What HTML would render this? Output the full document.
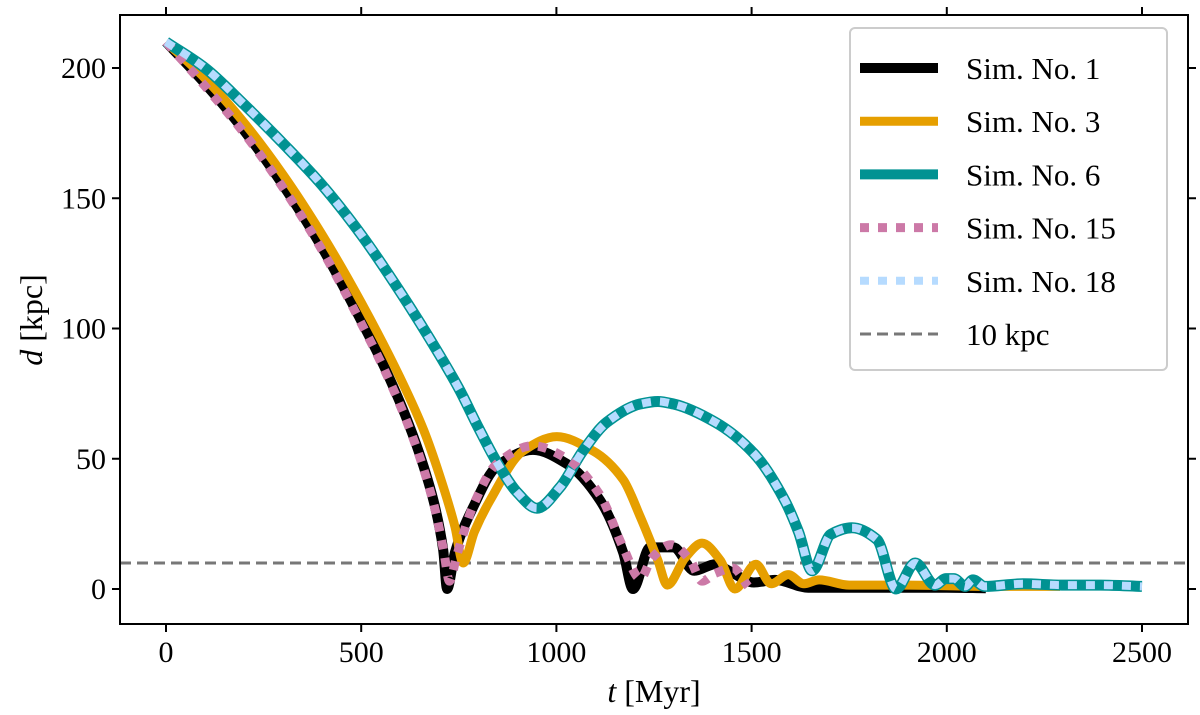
<!DOCTYPE html>
<html><head><meta charset="utf-8"><style>
body{margin:0;background:#fff}
svg{display:block;font-family:"Liberation Serif",serif}
</style></head><body>
<svg id="chart" width="1200" height="715"></svg>
<script>
const xTicks=[0,500,1000,1500,2000,2500];
const yTicks=[0,50,100,150,200];
const t1=[0,100,200,300,400,500,560,620,660,690,710,720,740,787,847,940,1027,1112,1171,1196,1240,1300,1353,1407,1442,1506,1560,1645,1700,1800,1900,2000,2100];
const d1=[210,194,176,155,131,103,85,64,47,31,15,0,14,31.5,47,53.4,48,34,14,0,16,16,7,9.5,7,2.5,3.5,0.5,0.5,0.5,0.5,0.5,0.3];
const t3=[0,100,200,300,400,500,600,660,700,740,761,790,830,915,1001,1094,1171,1214,1260,1284,1330,1373,1420,1457,1511,1550,1594,1634,1673,1750,1900,2100,2290];
const d3=[210,196,179,159,136,110,81,61,44,24,10,22,34,53,58.5,53,42,28,11,1.5,12,17.6,11,0,9.5,2,5.5,2,3.5,1.5,1.5,1,1];
const t6=[0,100,200,300,400,500,600,700,750,800,850,900,950,1009,1068,1129,1214,1260,1300,1407,1506,1585,1620,1655,1703,1757,1821,1870,1919,1970,1998,2018,2047,2067,2097,2195,2295,2394,2500];
const d6=[210,200,186,171,155,136,114,90,77,62,48,37,31,39,53,64,71,72,71,64,52,34,22,7,21,23.5,19,0,10,1.5,4,4,1,3.5,1,2,1.5,1.5,1];
const t15=[0,100,200,300,400,500,560,620,660,690,712,726,745,787,847,940,1027,1112,1171,1215,1245,1294,1343,1373,1407,1452,1491];
const d15=[210,193,175,154,130,102,84,63,46,30,14,3,13,32,48,55,50,36,16,4,12,17,11,3,6,8,1];
const t18=t6, d18=d6;
const legendLabels=["Sim. No. 1","Sim. No. 3","Sim. No. 6","Sim. No. 15","Sim. No. 18","10 kpc"];
const refLine=10;

const NS="http://www.w3.org/2000/svg";
const svg=document.getElementById('chart');
const L=120,R=1188,T=15,B=624;
const X=t=>166+t*(1142-166)/2500;
const Y=d=>589-d*(589-68)/200;
function el(tag,attrs,parent){const e=document.createElementNS(NS,tag);for(const k in attrs)e.setAttribute(k,attrs[k]);(parent||svg).appendChild(e);return e;}

function smoothPath(ts,ds){
  const xs=ts.map(X), ys=ds.map(Y), n=xs.length;
  const h=[],s=[];
  for(let i=0;i<n-1;i++){h.push(xs[i+1]-xs[i]);s.push((ys[i+1]-ys[i])/h[i]);}
  const m=new Array(n);
  m[0]=s[0];m[n-1]=s[n-2];
  for(let i=1;i<n-1;i++){
    if(s[i-1]*s[i]<=0){m[i]=0;}
    else{const w1=2*h[i]+h[i-1],w2=h[i]+2*h[i-1];m[i]=(w1+w2)/(w1/s[i-1]+w2/s[i]);}
  }
  let p='M'+xs[0]+','+ys[0];
  for(let i=0;i<n-1;i++){
    const d=h[i]/3;
    p+=' C'+(xs[i]+d)+','+(ys[i]+m[i]*d)+' '+(xs[i+1]-d)+','+(ys[i+1]-m[i+1]*d)+' '+xs[i+1]+','+ys[i+1];
  }
  return p;
}

let ref=el('line',{x1:L,x2:R,y1:Y(refLine),y2:Y(refLine),stroke:'#777',"stroke-width":3,"stroke-dasharray":"11,6"});



function series(ts,ds,color,w,dash,name){
  const p=el('path',{d:smoothPath(ts,ds),fill:'none',stroke:color,"stroke-width":w,"stroke-linejoin":"round",...(dash?{"stroke-dasharray":dash}:{})});
  
  
}
series(t1,d1,'#000',10,null,'series-sim-1');
series(t3,d3,'#e69f00',9,null,'series-sim-3');
series(t6,d6,'#009292',11,null,'series-sim-6');
series(t15,d15,'#cc79a7',9,'9,9','series-sim-15');
series(t18,d18,'#b6dbff',8,'9,9','series-sim-18');

let fr=el('rect',{x:L,y:T,width:R-L,height:B-T,fill:'none',stroke:'#000',"stroke-width":2});



xTicks.forEach(v=>{
  el('line',{x1:X(v),x2:X(v),y1:B,y2:B+8,stroke:'#000',"stroke-width":2});
  el('line',{x1:X(v),x2:X(v),y1:T,y2:T-8,stroke:'#000',"stroke-width":2});
  const tx=el('text',{x:X(v),y:B+38,"font-size":30,"text-anchor":"middle"});tx.textContent=v;
  
  
});
yTicks.forEach(v=>{
  el('line',{x1:L,x2:L-8,y1:Y(v),y2:Y(v),stroke:'#000',"stroke-width":2});
  el('line',{x1:R,x2:R+8,y1:Y(v),y2:Y(v),stroke:'#000',"stroke-width":2});
  const tx=el('text',{x:L-14,y:Y(v)+10,"font-size":30,"text-anchor":"end"});tx.textContent=v;
  
  
});
let xt=el('text',{x:654,y:702,"font-size":32,"text-anchor":"middle"});
xt.innerHTML='<tspan font-style="italic">t</tspan> [Myr]';


let yt=el('text',{x:0,y:0,"font-size":32,"text-anchor":"middle",transform:'translate(42,320) rotate(-90)'});
yt.innerHTML='<tspan font-style="italic">d</tspan> [kpc]';



const lg=el('g',{});


el('rect',{x:850,y:28,width:317,height:342,rx:5,fill:'#fff',stroke:'#ccc',"stroke-width":2},lg);
const lstyles=[['#000',10,null],['#e69f00',9,null],['#009292',10,null],['#cc79a7',9,'9,9'],['#b6dbff',8,'9,9'],['#777',3,'11,6']];
legendLabels.forEach((lab,i)=>{
  const y=68+i*53.2;
  const g=el('g',{},lg);
  
  
  const s=lstyles[i];
  el('line',{x1:860,x2:938,y1:y,y2:y,stroke:s[0],"stroke-width":s[1],...(s[2]?{"stroke-dasharray":s[2]}:{})},g);
  const tx=el('text',{x:966,y:y+11,"font-size":31},g);tx.textContent=lab;
});
</script>
</body></html>
